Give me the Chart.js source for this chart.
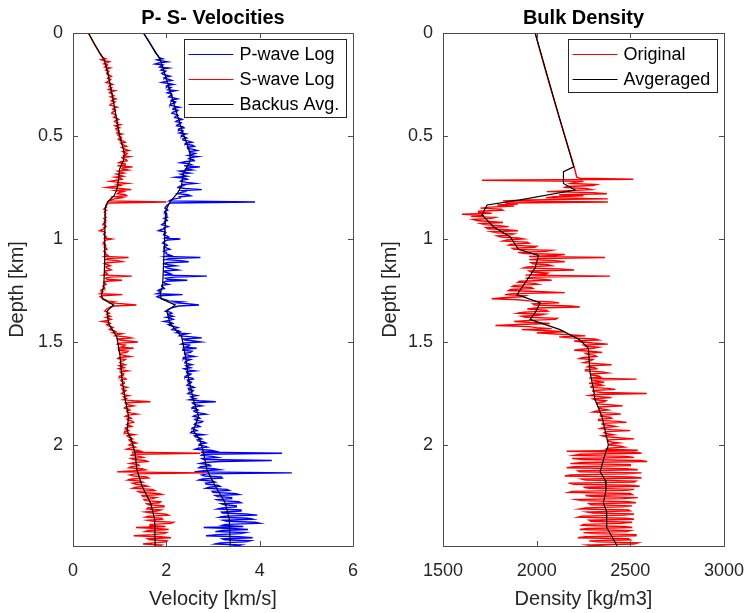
<!DOCTYPE html>
<html>
<head>
<meta charset="utf-8">
<script src="https://cdn.jsdelivr.net/npm/chart.js@4.4.0/dist/chart.umd.min.js"></script>
<style>
    html, body { margin: 0; padding: 0; background: #fff; }
    #wrap { position: relative; width: 747px; height: 613px; }
    canvas { position: absolute; top: 0; }
    #velocity-chart { left: 0; }
    #density-chart { left: 373px; }
</style>
</head>
<body>
<div id="wrap">
    <canvas id="velocity-chart" width="373" height="613"></canvas>
    <canvas id="density-chart" width="374" height="613"></canvas>
</div>
<script>
// tick labels
const depthTicks = [0, 0.5, 1, 1.5, 2];
const velocityTicks = [0, 2, 4, 6];
const densityTicks = [1500, 2000, 2500, 3000];

// smooth part above the logged interval
const velTopDepth = [0, 0.05];
const pWaveTop = [1.51, 1.65];
const sWaveTop = [0.33, 0.45];

// velocity logs, one sample every 5 m from 0.10 km (one row = 100 m)
const pWaveLog = [
    1.78, 1.80, 1.82, 1.835, 1.85, 1.92, 1.80, 1.88, 2.02, 1.84, 1.76, 1.93, 1.90, 1.86, 2.05, 1.91, 1.88, 1.99, 1.96, 1.90,
    1.92, 2.00, 2.08, 1.97, 1.95, 2.06, 2.12, 1.99, 1.90, 2.04, 2.15, 2.01, 2.00, 2.10, 2.06, 2.03, 2.20, 2.08, 2.02, 2.11,
    2.12, 2.08, 2.05, 2.16, 2.24, 2.11, 2.10, 2.20, 2.18, 2.09, 2.08, 2.17, 2.28, 2.15, 2.14, 2.25, 2.22, 2.13, 2.12, 2.21,
    2.25, 2.20, 2.18, 2.29, 2.34, 2.23, 2.20, 2.32, 2.30, 2.24, 2.22, 2.35, 2.38, 2.27, 2.26, 2.36, 2.34, 2.28, 2.42, 2.33,
    2.32, 2.40, 2.44, 2.35, 2.36, 2.48, 2.55, 2.42, 2.40, 2.56, 2.60, 2.45, 2.46, 2.58, 2.66, 2.49, 2.50, 2.62, 2.56, 2.47,
    2.68, 2.52, 2.48, 2.58, 2.60, 2.40, 2.30, 2.50, 2.55, 2.38, 2.72, 2.46, 2.42, 2.55, 2.28, 2.36, 2.50, 2.30, 2.35, 2.44,
    2.20, 2.40, 2.45, 2.32, 2.30, 2.44, 2.62, 2.35, 2.38, 2.28, 2.25, 2.40, 2.76, 2.33, 2.40, 2.30, 2.24, 2.46, 2.52, 2.28,
    2.30, 2.18, 2.10, 2.06, 3.90, 2.08, 2.05, 2.02, 2.00, 1.98, 1.97, 2.01, 2.03, 1.97, 1.96, 2.00, 2.01, 1.99, 1.98, 2.02,
    1.95, 2.00, 2.02, 1.96, 1.97, 1.93, 1.90, 1.98, 2.04, 1.95, 1.96, 1.88, 1.83, 1.97, 1.99, 1.95, 1.94, 2.01, 2.05, 1.98,
    2.30, 2.02, 1.97, 1.94, 1.92, 1.99, 2.02, 1.96, 1.95, 2.03, 2.08, 1.97, 1.94, 2.00, 1.99, 2.04, 2.10, 1.98, 2.73, 2.06,
    1.98, 2.30, 2.48, 2.00, 1.95, 2.05, 2.20, 1.97, 2.00, 2.12, 2.25, 1.96, 1.96, 2.04, 2.10, 1.94, 2.87, 2.18, 1.98, 2.02,
    2.45, 1.99, 1.94, 1.97, 2.05, 1.90, 1.90, 1.94, 1.96, 1.86, 1.82, 1.88, 1.88, 1.80, 2.35, 1.85, 1.80, 1.86, 1.90, 2.00,
    2.05, 2.35, 2.20, 2.50, 2.70, 2.26, 2.18, 2.10, 2.05, 2.02, 1.98, 2.08, 2.12, 2.04, 2.06, 2.14, 2.00, 2.10, 2.15, 2.06,
    1.95, 2.10, 2.14, 2.04, 2.08, 2.18, 2.25, 2.15, 2.12, 2.26, 2.30, 2.22, 2.45, 2.32, 2.28, 2.55, 2.76, 2.36, 2.40, 2.60,
    2.74, 2.38, 2.32, 2.50, 2.48, 2.40, 2.65, 2.36, 2.35, 2.55, 2.52, 2.39, 2.40, 2.48, 2.60, 2.37, 2.36, 2.52, 2.46, 2.42,
    2.40, 2.47, 2.55, 2.42, 2.45, 2.52, 2.38, 2.44, 2.62, 2.43, 2.44, 2.53, 2.50, 2.41, 2.40, 2.56, 2.58, 2.45, 2.46, 2.54,
    2.52, 2.46, 2.44, 2.55, 2.60, 2.47, 2.48, 2.58, 2.56, 2.49, 2.46, 2.57, 2.66, 2.52, 2.54, 2.62, 2.50, 2.70, 3.06, 2.56,
    2.58, 2.66, 2.76, 2.57, 2.55, 2.64, 2.68, 2.59, 2.62, 2.74, 2.85, 2.63, 2.58, 2.68, 2.72, 2.61, 2.64, 2.78, 2.75, 2.62,
    2.60, 2.68, 2.72, 2.57, 2.55, 2.62, 2.66, 2.54, 2.52, 2.63, 2.80, 2.60, 2.62, 2.72, 2.76, 2.66, 2.68, 2.80, 2.85, 2.72,
    2.70, 2.82, 2.88, 2.68, 2.62, 2.95, 3.05, 2.74, 4.48, 2.78, 2.75, 2.98, 3.10, 2.76, 2.80, 4.26, 3.15, 2.82, 2.72, 2.92,
    2.95, 2.74, 2.70, 3.02, 3.15, 2.80, 2.60, 4.69, 2.88, 2.76, 2.82, 3.18, 3.20, 2.78, 2.70, 3.00, 3.05, 2.84, 2.85, 3.10,
    3.15, 2.92, 2.85, 3.30, 3.35, 2.98, 3.00, 3.45, 3.55, 3.05, 3.10, 3.40, 3.40, 3.08, 3.15, 3.55, 3.60, 3.18, 3.25, 3.50,
    3.50, 3.20, 3.10, 3.60, 3.60, 3.18, 3.20, 3.70, 3.95, 3.25, 3.15, 3.75, 3.85, 3.22, 3.30, 3.90, 4.00, 3.28, 3.20, 3.65,
    2.80, 3.40, 3.75, 3.20, 3.05, 3.70, 3.60, 3.10, 2.85, 3.55, 3.85, 3.20, 3.25, 3.80, 3.70, 3.15, 3.05, 3.60, 3.50, 3.30,
];
const sWaveLog = [
    0.58, 0.595, 0.61, 0.625, 0.64, 0.70, 0.60, 0.66, 0.78, 0.72, 0.66, 0.74, 0.72, 0.68, 0.80, 0.73, 0.70, 0.77, 0.76, 0.72,
    0.73, 0.78, 0.82, 0.76, 0.74, 0.81, 0.79, 0.75, 0.71, 0.80, 0.85, 0.78, 0.77, 0.83, 0.80, 0.76, 0.90, 0.81, 0.78, 0.84,
    0.84, 0.88, 0.80, 0.86, 0.92, 0.84, 0.82, 0.90, 0.86, 0.81, 0.79, 0.88, 0.95, 0.87, 0.85, 0.91, 0.88, 0.84, 0.83, 0.90,
    0.92, 0.89, 0.87, 0.95, 0.98, 0.91, 0.89, 0.96, 0.94, 1.02, 0.90, 0.95, 1.00, 0.92, 0.93, 0.99, 0.97, 0.94, 1.05, 0.96,
    0.98, 1.03, 1.04, 0.97, 0.99, 1.08, 1.12, 1.02, 1.05, 1.10, 1.15, 1.04, 1.08, 1.13, 1.20, 1.06, 1.10, 1.16, 1.13, 1.09,
    1.22, 1.05, 1.07, 1.14, 1.16, 1.03, 0.98, 1.12, 1.12, 0.95, 1.28, 1.06, 1.05, 1.18, 0.96, 1.02, 1.10, 0.93, 1.00, 1.08,
    0.90, 1.02, 1.05, 0.93, 0.80, 0.99, 1.18, 0.95, 1.02, 0.88, 0.72, 1.00, 1.25, 0.92, 1.08, 0.98, 0.95, 1.12, 1.15, 0.90,
    1.05, 0.88, 0.82, 0.78, 2.00, 0.76, 0.74, 0.71, 0.70, 0.72, 0.68, 0.66, 0.72, 0.69, 0.67, 0.70, 0.70, 0.68, 0.69, 0.71,
    0.66, 0.69, 0.70, 0.67, 0.68, 0.65, 0.64, 0.69, 0.71, 0.66, 0.67, 0.62, 0.57, 0.68, 0.69, 0.66, 0.66, 0.70, 0.72, 0.68,
    0.83, 0.70, 0.68, 0.66, 0.65, 0.69, 0.70, 0.67, 0.67, 0.71, 0.73, 0.68, 0.66, 0.70, 0.69, 0.72, 0.75, 0.68, 1.19, 0.74,
    0.70, 0.95, 1.05, 0.72, 0.67, 0.74, 0.80, 0.70, 0.72, 0.78, 0.82, 0.69, 0.68, 0.72, 0.74, 0.66, 1.26, 0.80, 0.70, 0.73,
    1.05, 0.71, 0.66, 0.69, 0.71, 0.65, 0.64, 0.67, 0.68, 0.62, 0.60, 0.64, 0.63, 0.58, 1.06, 0.62, 0.58, 0.63, 0.65, 0.70,
    0.74, 0.90, 0.82, 1.10, 1.36, 0.88, 0.80, 0.76, 0.72, 0.70, 0.68, 0.75, 0.78, 0.72, 0.74, 0.80, 0.70, 0.77, 0.82, 0.74,
    0.62, 0.78, 0.80, 0.72, 0.74, 0.82, 0.86, 0.80, 0.78, 0.88, 0.92, 0.85, 1.05, 0.94, 0.90, 1.15, 1.25, 0.96, 1.00, 1.20,
    1.39, 0.98, 0.95, 1.12, 1.10, 1.02, 1.30, 0.97, 0.98, 1.18, 1.15, 1.00, 1.02, 1.08, 1.22, 0.99, 0.96, 1.12, 1.08, 1.02,
    1.00, 1.06, 1.12, 0.99, 1.05, 1.10, 0.98, 1.04, 1.18, 1.01, 1.03, 1.09, 1.08, 1.00, 0.99, 1.12, 1.14, 1.02, 1.04, 1.10,
    1.10, 1.03, 1.02, 1.08, 1.16, 1.05, 1.06, 1.14, 1.12, 1.07, 1.04, 1.10, 1.20, 1.08, 1.10, 1.15, 1.08, 1.30, 1.66, 1.12,
    1.14, 1.20, 1.30, 1.13, 1.10, 1.18, 1.22, 1.15, 1.16, 1.26, 1.38, 1.17, 1.12, 1.21, 1.25, 1.16, 1.20, 1.28, 1.30, 1.18,
    1.15, 1.21, 1.26, 1.13, 1.12, 1.17, 1.20, 1.11, 1.10, 1.19, 1.32, 1.16, 1.18, 1.25, 1.28, 1.20, 1.22, 1.30, 1.36, 1.24,
    1.20, 1.30, 1.34, 1.22, 1.15, 1.38, 1.45, 1.26, 2.73, 1.28, 1.25, 1.42, 1.50, 1.24, 1.30, 1.55, 1.60, 1.32, 1.22, 1.40,
    1.42, 1.25, 1.20, 1.48, 1.55, 1.30, 0.94, 2.83, 1.35, 1.22, 1.30, 1.58, 1.62, 1.26, 1.18, 1.45, 1.50, 1.28, 1.35, 1.52,
    1.60, 1.35, 1.28, 1.70, 1.75, 1.40, 1.45, 1.82, 1.90, 1.48, 1.50, 1.78, 1.70, 1.52, 1.55, 1.88, 1.85, 1.58, 1.62, 1.95,
    1.95, 1.60, 1.58, 1.88, 1.80, 1.55, 1.68, 2.00, 2.05, 1.62, 1.55, 1.90, 1.92, 1.60, 1.72, 2.15, 2.10, 1.66, 1.65, 1.98,
    1.35, 1.80, 2.05, 1.62, 1.55, 2.00, 1.95, 1.70, 1.30, 1.88, 2.10, 1.60, 1.65, 2.02, 2.00, 1.72, 1.50, 1.90, 1.85, 1.68,
];

// Backus averages
const backusPDepth = [0, 0.05, 0.10, 0.13, 0.2, 0.31, 0.47, 0.58, 0.62, 0.68, 0.745, 0.78, 0.82, 0.86, 1.02, 1.23, 1.26, 1.29, 1.32, 1.35, 1.41, 1.475, 1.57, 1.68, 1.78, 1.86, 1.93, 1.98, 2.04, 2.12, 2.2, 2.28, 2.36, 2.49];
const backusP = [1.51, 1.65, 1.79, 1.87, 1.97, 2.12, 2.33, 2.51, 2.51, 2.37, 2.32, 2.23, 2.08, 1.99, 1.96, 1.92, 1.87, 1.89, 2.19, 2.01, 2.08, 2.33, 2.41, 2.48, 2.58, 2.69, 2.58, 2.73, 2.80, 2.87, 3.05, 3.26, 3.35, 3.37];
const backusSDepth = [0, 0.05, 0.10, 0.13, 0.2, 0.3, 0.4, 0.5, 0.58, 0.62, 0.66, 0.72, 0.76, 0.79, 0.82, 0.85, 1.0, 1.1, 1.23, 1.27, 1.29, 1.32, 1.35, 1.41, 1.475, 1.57, 1.68, 1.78, 1.86, 1.93, 1.98, 2.04, 2.12, 2.2, 2.28, 2.36, 2.49];
const backusS = [0.33, 0.45, 0.58, 0.67, 0.75, 0.84, 0.92, 1.00, 1.10, 1.08, 1.00, 0.97, 0.94, 0.88, 0.74, 0.69, 0.68, 0.68, 0.66, 0.61, 0.63, 0.87, 0.73, 0.76, 0.94, 1.01, 1.05, 1.12, 1.19, 1.16, 1.26, 1.33, 1.37, 1.48, 1.66, 1.75, 1.76];

// density, smooth top then log every 5 m from 0.70 km
const densTopDepth = [0, 0.1, 0.2, 0.3, 0.4, 0.5, 0.6, 0.65];
const densityTop = [1992, 2022, 2053, 2085, 2117, 2150, 2184, 2200];
const densityLog = [
    2214, 2230, 2516, 1708, 2250, 2200, 2180, 2320, 2300, 2160, 2150, 2260, 2290, 2180, 2054, 2300, 2375, 2120, 2250, 2090,
    2050, 2380, 1950, 1820, 2380, 1832, 1900, 1790, 1880, 1750, 1700, 1810, 1820, 1690, 1690, 1760, 1601, 1720, 1650, 1780,
    1760, 1660, 1680, 1750, 1820, 1700, 1720, 1800, 1850, 1730, 1740, 1840, 1900, 1760, 1790, 1880, 1860, 1790, 1810, 1900,
    1930, 1840, 1820, 1950, 1960, 1860, 1850, 2000, 1990, 1870, 1880, 2080, 2050, 1900, 1940, 2150, 2100, 1960, 2365, 2020,
    1960, 2100, 2150, 1970, 1980, 2060, 2080, 1950, 1930, 2120, 2200, 1960, 1970, 2060, 2050, 1940, 2392, 2000, 1940, 2030,
    2080, 1910, 1900, 1990, 2010, 1880, 1870, 1970, 1980, 1860, 1850, 2000, 2150, 1870, 1830, 1940, 1920, 1820, 1760, 1900,
    1960, 2080, 2120, 1980, 1990, 2180, 2230, 1990, 1950, 2050, 2060, 1930, 1900, 2040, 2010, 1920, 1940, 2110, 2100, 1960,
    1880, 1980, 2070, 1900, 1780, 1960, 2000, 2080, 1920, 2060, 2150, 2000, 2080, 2190, 2260, 2120, 2180, 2310, 2330, 2200,
    2240, 2300, 2380, 2250, 2260, 2330, 2300, 2240, 2200, 2290, 2350, 2260, 2270, 2310, 2320, 2250, 2230, 2300, 2290, 2270,
    2250, 2320, 2400, 2280, 2270, 2310, 2320, 2260, 2260, 2350, 2380, 2290, 2290, 2330, 2340, 2280, 2534, 2300, 2310, 2360,
    2280, 2330, 2350, 2290, 2290, 2380, 2420, 2300, 2300, 2350, 2588, 2310, 2280, 2340, 2400, 2300, 2310, 2370, 2360, 2320,
    2320, 2400, 2460, 2330, 2330, 2350, 2380, 2320, 2300, 2410, 2450, 2340, 2340, 2390, 2400, 2330, 2330, 2440, 2480, 2350,
    2350, 2390, 2420, 2360, 2340, 2400, 2500, 2370, 2360, 2380, 2410, 2350, 2370, 2450, 2520, 2380, 2380, 2400, 2440, 2390,
    2390, 2450, 2470, 2380, 2370, 2540, 2160, 2520, 2560, 2230, 2200, 2480, 2520, 2190, 2250, 2550, 2590, 2240, 2180, 2500,
    2500, 2200, 2160, 2480, 2540, 2220, 2230, 2560, 2480, 2180, 2150, 2510, 2560, 2240, 2260, 2530, 2520, 2170, 2200, 2490,
    2550, 2250, 2280, 2520, 2480, 2190, 2170, 2500, 2510, 2260, 2300, 2540, 2460, 2210, 2240, 2490, 2530, 2280, 2290, 2510,
    2460, 2260, 2230, 2490, 2500, 2270, 2300, 2520, 2470, 2240, 2220, 2480, 2520, 2280, 2290, 2510, 2450, 2250, 2240, 2470,
    2510, 2270, 2230, 2500, 2480, 2250, 2300, 2530, 2530, 2260, 2220, 2490, 2500, 2280, 2320, 2540, 2520, 2270, 2300, 2480,
];
const avgDensDepth = [0, 0.3, 0.65, 0.673, 0.73, 0.762, 0.81, 0.835, 0.883, 0.94, 0.99, 1.05, 1.08, 1.14, 1.2, 1.27, 1.31, 1.36, 1.39, 1.44, 1.49, 1.53, 1.65, 1.72, 1.78, 1.86, 2.0, 2.06, 2.13, 2.17, 2.22, 2.28, 2.32, 2.4, 2.49];
const avgDensity = [1992, 2086, 2198, 2143, 2143, 2205, 1912, 1735, 1708, 1770, 1859, 1903, 2010, 1992, 1948, 1895, 2019, 1990, 1965, 2125, 2232, 2276, 2285, 2302, 2312, 2348, 2383, 2360, 2339, 2366, 2370, 2356, 2372, 2374, 2430];

// log sample depths (5 m spacing)
const velLogDepth = pWaveLog.map((_, i) => Math.round((0.10 + i * 0.005) * 1000) / 1000);
const densLogDepth = densityLog.map((_, i) => Math.round((0.70 + i * 0.005) * 1000) / 1000);

const toPoints = (depths, values) => values.map((v, i) => ({ x: v, y: depths[i] }));

Chart.defaults.font.family = '"Liberation Sans", Arial, Helvetica, sans-serif';
Chart.defaults.color = "#262626";

// box, inward ticks, legend inside the axes and the title (matlab look)
const matlabAxes = {
    id: "matlabAxes",
    afterDatasetsDraw(chart, args, opts) {
        const { ctx, chartArea: a, scales } = chart;
        ctx.save();
        ctx.strokeStyle = "#4d4d4d";
        ctx.lineWidth = 1;
        ctx.beginPath();
        scales.x.ticks.forEach((t) => {
            const px = Math.round(scales.x.getPixelForValue(t.value)) + 0.5;
            ctx.moveTo(px, a.bottom); ctx.lineTo(px, a.bottom - 5);
            ctx.moveTo(px, a.top); ctx.lineTo(px, a.top + 5);
        });
        scales.y.ticks.forEach((t) => {
            const py = Math.round(scales.y.getPixelForValue(t.value)) + 0.5;
            ctx.moveTo(a.left, py); ctx.lineTo(a.left + 5, py);
            ctx.moveTo(a.right, py); ctx.lineTo(a.right - 5, py);
        });
        ctx.stroke();
        ctx.strokeRect(Math.round(a.left) + 0.5, Math.round(a.top) + 0.5,
            Math.round(a.right - a.left), Math.round(a.bottom - a.top));

        // legend
        const items = chart.data.datasets.filter((d) => d.label);
        ctx.font = '18px "Liberation Sans", Arial, sans-serif';
        const textW = Math.max(...items.map((d) => ctx.measureText(d.label).width));
        const w = 55 + textW + 7;
        const h = 15 + 25 * (items.length - 1) + 13;
        const x0 = Math.round(a.right - 7 - w) + 0.5;
        const y0 = Math.round(a.top + 6) + 0.5;
        ctx.fillStyle = "#fff";
        ctx.fillRect(x0, y0, w, h);
        ctx.strokeStyle = "#262626";
        ctx.lineWidth = 1;
        ctx.strokeRect(x0, y0, Math.round(w), h);
        ctx.textAlign = "left";
        ctx.textBaseline = "middle";
        items.forEach((d, i) => {
            const y = y0 + 15 + 25 * i;
            ctx.strokeStyle = d.borderColor;
            ctx.beginPath();
            ctx.moveTo(x0 + 4, y); ctx.lineTo(x0 + 49, y);
            ctx.stroke();
            ctx.fillStyle = "#000";
            ctx.fillText(d.label, x0 + 55, y + 1);
        });

        // title
        ctx.fillStyle = "#000";
        ctx.font = 'bold 20px "Liberation Sans", Arial, sans-serif';
        ctx.textAlign = "center";
        ctx.fillText(opts.text, (a.left + a.right) / 2, 18);
        ctx.restore();
    },
};

function logScales(xTicks, xMin, xMax, xTitle, yWidth) {
    return {
        x: {
            type: "linear",
            min: xMin,
            max: xMax,
            grid: { display: false, drawTicks: false },
            border: { display: false },
            afterBuildTicks: (scale) => { scale.ticks = xTicks.map((v) => ({ value: v })); },
            afterFit: (scale) => {
                scale.height = 67;
                scale.paddingLeft = 0;
                scale.paddingRight = 0;
            },
            ticks: { padding: 14, font: { size: 18 }, callback: (v) => String(v) },
            title: { display: true, text: xTitle, font: { size: 20 }, padding: { top: 0, bottom: 2 } },
        },
        y: {
            type: "linear",
            reverse: true,
            min: 0,
            max: 2.49,
            grid: { display: false, drawTicks: false },
            border: { display: false },
            afterBuildTicks: (scale) => { scale.ticks = depthTicks.map((v) => ({ value: v })); },
            afterFit: (scale) => {
                scale.width = yWidth;
                scale.paddingTop = 0;
                scale.paddingBottom = 0;
            },
            ticks: { padding: 10, font: { size: 18 }, callback: (v) => String(v) },
            title: { display: true, text: "Depth [km]", font: { size: 20 }, padding: { top: 5, bottom: 0 } },
        },
    };
}

const lineStyle = { showLine: true, pointRadius: 0, borderWidth: 1.4, tension: 0, fill: false };
const avgStyle = { ...lineStyle, borderWidth: 1.2 };

// ---- P- S- velocities
const configVelocity = {
    type: "scatter",
    data: {
        datasets: [
            { ...lineStyle, label: "P-wave Log", borderColor: "#0000ff", order: 3,
              data: toPoints(velTopDepth.concat(velLogDepth), pWaveTop.concat(pWaveLog)) },
            { ...lineStyle, label: "S-wave Log", borderColor: "#ff0000", order: 2,
              data: toPoints(velTopDepth.concat(velLogDepth), sWaveTop.concat(sWaveLog)) },
            { ...avgStyle, label: "Backus Avg.", borderColor: "#000000", order: 1,
              data: toPoints(backusPDepth, backusP) },
            { ...avgStyle, label: "", borderColor: "#000000", order: 0,
              data: toPoints(backusSDepth, backusS) },
        ],
    },
    options: {
        responsive: false,
        animation: false,
        layout: { padding: { left: 0, top: 33, right: 20, bottom: 0 } },
        plugins: {
            legend: { display: false },
            tooltip: { enabled: false },
            matlabAxes: { text: "P- S- Velocities" },
        },
        scales: logScales(velocityTicks, 0, 6, "Velocity [km/s]", 73),
    },
    plugins: [matlabAxes],
};

// ---- bulk density
const configDensity = {
    type: "scatter",
    data: {
        datasets: [
            { ...lineStyle, label: "Original", borderColor: "#ff0000", order: 1,
              data: toPoints(densTopDepth.concat(densLogDepth), densityTop.concat(densityLog)) },
            { ...avgStyle, label: "Avgeraged", borderColor: "#000000", order: 0,
              data: toPoints(avgDensDepth, avgDensity) },
        ],
    },
    options: {
        responsive: false,
        animation: false,
        layout: { padding: { left: 0, top: 33, right: 23, bottom: 0 } },
        plugins: {
            legend: { display: false },
            tooltip: { enabled: false },
            matlabAxes: { text: "Bulk Density" },
        },
        scales: logScales(densityTicks, 1500, 3000, "Density [kg/m3]", 70),
    },
    plugins: [matlabAxes],
};

new Chart(document.getElementById("velocity-chart"), configVelocity);
new Chart(document.getElementById("density-chart"), configDensity);
</script>
</body>
</html>
